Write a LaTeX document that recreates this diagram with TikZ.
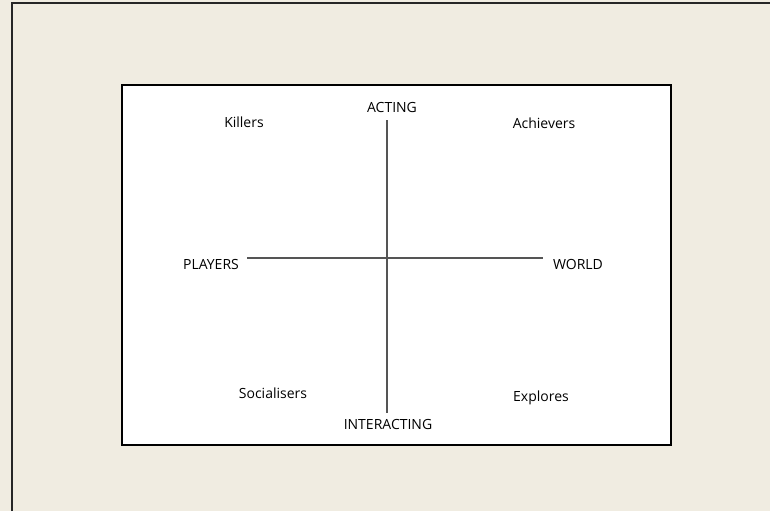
\documentclass[tikz,border=0pt]{standalone}
\usepackage{fontspec}
\setmainfont{Open Sans}
\usetikzlibrary{positioning}
\definecolor{mount}{RGB}{240,236,225}
\definecolor{axisgray}{RGB}{85,85,85}
\tikzset{
  quadlabel/.style={font=\fontsize{14}{16}\selectfont, inner sep=0pt, anchor=base},
  axisline/.style={draw=axisgray, line width=1.4pt},
  frameline/.style={draw=black, line width=1.3pt},
}

\begin{document}
\begin{tikzpicture}[x=1pt,y=-1pt]
  % mount board and its edge
  \fill[mount] (0,0) rectangle (770,511);
  \useasboundingbox (0,0) rectangle (770,511);
  \draw[black!85, line width=1.6pt] (12,511) -- (12,3) -- (770,3);
  % white card
  \filldraw[fill=white, frameline] (122,85) rectangle (671,445);

  % axis ends
  \node[quadlabel] (acting) at (392,112) {ACTING};
  \node[quadlabel] (interacting) at (388,429) {INTERACTING};
  \node[quadlabel] (players) at (211,269) {PLAYERS};
  \node[quadlabel] (world) at (578,269) {WORLD};
  \coordinate (top) at (387,120);
  \coordinate (bottom) at (387,413);
  \coordinate (left) at (247,258);
  \coordinate (right) at (543,258);
  \draw[axisline] (top) -- (bottom);
  \draw[axisline] (left) -- (right);

  % player types
  \node[quadlabel] (killers) at (244,127) {Killers};
  \node[quadlabel] (achievers) at (544,128) {Achievers};
  \node[quadlabel] (socialisers) at (273,398) {Socialisers};
  \node[quadlabel] (explores) at (541,401) {Explores};
\end{tikzpicture}
\end{document}
